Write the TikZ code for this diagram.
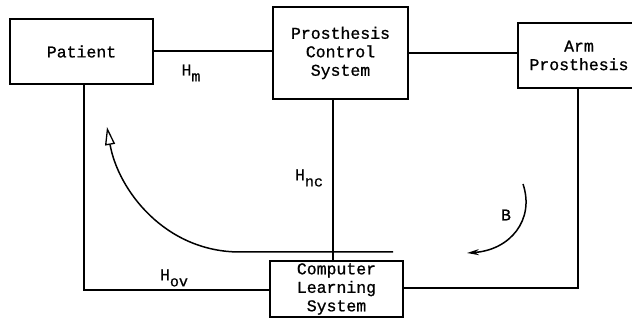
\documentclass[tikz,border=0pt]{standalone}
\usepackage{fontspec}
\setmonofont{Liberation Mono}[FakeBold=0.9]
\usetikzlibrary{arrows.meta,calc}
\begin{document}
\begin{tikzpicture}[x=1pt,y=-1pt,
  blk/.style={draw,line width=1.3pt,align=center,inner sep=0pt,font=\ttfamily\fontsize{16.5}{18.5}\selectfont},
  wire/.style={line width=1.2pt},
  lbl/.style={font=\ttfamily\fontsize{16.5}{18.5}\selectfont,inner sep=0pt}]
\newcommand{\Hsub}[1]{H\raisebox{-6pt}{\fontsize{15}{17}\selectfont #1}}
\useasboundingbox (0,0) rectangle (632,320);
\clip (0,0) rectangle (632,320);
\node[blk,minimum width=143pt,minimum height=65pt] (pat) at (81.5,51.5) {Patient};
\node[blk,minimum width=135pt,minimum height=92pt] (pcs) at (340.5,53) {Prosthesis\\Control\\System};
\node[blk,minimum width=122pt,minimum height=65pt] (arm) at (579,55.5) {Arm\\Prosthesis};
\node[blk,minimum width=133pt,minimum height=56pt] (cls) at (336.5,289) {Computer\\Learning\\System};
\coordinate (pl) at (84,290);
\coordinate (pc) at (333,0);
\coordinate (ar) at (578,288);
\draw[wire] (pat.east |- 0,51) -- (pcs.west |- 0,51);
\draw[wire] (pcs.east) -- (arm.west |- pcs.east);
\draw[wire] (pat.south -| pl) -- (pl) -- (pl -| cls.west);
\draw[wire] (pcs.south -| pc) -- (cls.north -| pc);
\draw[wire] (arm.south -| ar) -- (ar) -- (ar -| cls.east);
\coordinate (a1) at (393,252);
\coordinate (a2) at (240,252);
\coordinate (a3) at (107,127);
\draw[line width=1.5pt,-{Triangle[open,length=18pt,width=10pt,line width=1.3pt]}] (a1) -- (a2) .. controls (165,252) and (118,190) .. (a3);
\coordinate (b1) at (523,184);
\coordinate (b2) at (467,253);
\draw[line width=1.5pt,-{Stealth[length=12pt,width=6pt]}] (b1) .. controls (535,220) and (510,250) .. (b2);
\node[lbl] (hm) at (191,73) {\Hsub{m}};
\node[lbl] (hnc) at (309,178) {\Hsub{nc}};
\node[lbl] (hov) at (174,278) {\Hsub{ov}};
\node[lbl] (b) at (506,215) {B};
\end{tikzpicture}
\end{document}
